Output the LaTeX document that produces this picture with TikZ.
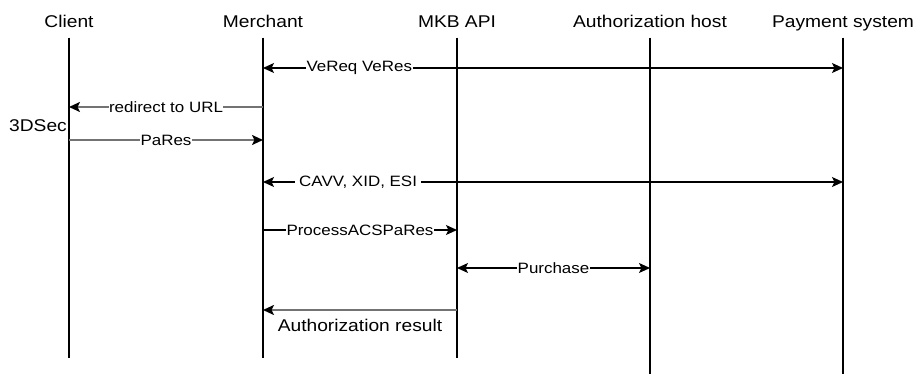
\documentclass[tikz,border=0pt]{standalone}
\usepackage{fontspec}
\setmainfont{Liberation Sans}[FakeStretch=1.13]
\usetikzlibrary{arrows.meta}
\begin{document}
\begin{tikzpicture}[x=1pt,y=1pt,
    font=\fontsize{17}{20}\selectfont,
    >={Stealth[length=11pt,width=10pt,inset=2.5pt,color=black]},
    head/.style={anchor=base,text depth=4pt},
    life/.style={line width=1.1pt,shorten <=2pt},
    call/.style={line width=1.1pt},
    back/.style={line width=2.4pt,draw=black!55},
    lbl/.style={fill=white,inner sep=0.5pt,font=\fontsize{15}{18}\selectfont}]
  \useasboundingbox (0,0) rectangle (920,-374);
  \node[head] (client) at (69,-28) {Client};
  \node[head] (merchant) at (263,-28) {Merchant};
  \node[head] (mkb) at (457,-28) {MKB API};
  \node[head] (auth) at (650,-28) {Authorization host};
  \node[head] (pay) at (843,-28) {Payment system};

  \coordinate (clientend) at (69,-358);
  \coordinate (merchantend) at (263,-358);
  \coordinate (mkbend) at (457,-358);
  \coordinate (authend) at (650,-374);
  \coordinate (payend) at (843,-374);
  \draw[life] (client.south) -- (clientend);
  \draw[life] (merchant.south) -- (merchantend);
  \draw[life] (mkb.south) -- (mkbend);
  \draw[life] (auth.south) -- (authend);
  \draw[life] (pay.south) -- (payend);

  \node[anchor=east,inner sep=1pt] (sec) at (68,-126) {3DSec};

  \coordinate (ve1) at (263,-68);
  \coordinate (ve2) at (843,-68);
  \draw[call,<->] (ve1) to node[lbl,pos=0.166]{VeReq VeRes} (ve2);

  \coordinate (rd1) at (263,-107);
  \coordinate (rd2) at (69,-107);
  \draw[back,->] (rd1) to node[lbl]{redirect to URL} (rd2);

  \coordinate (pa1) at (69,-140);
  \coordinate (pa2) at (263,-140);
  \draw[back,->] (pa1) to node[lbl]{PaRes} (pa2);

  \coordinate (ca1) at (263,-182);
  \coordinate (ca2) at (843,-182);
  \draw[call,<->] (ca1) to node[lbl,inner xsep=4pt,pos=0.164]{CAVV, XID, ESI} (ca2);

  \coordinate (pr1) at (263,-230);
  \coordinate (pr2) at (457,-230);
  \draw[call,->] (pr1) to node[lbl]{ProcessACSPaRes} (pr2);

  \coordinate (pu1) at (457,-268);
  \coordinate (pu2) at (650,-268);
  \draw[call,<->] (pu1) to node[lbl]{Purchase} (pu2);

  \coordinate (ar1) at (457,-310);
  \coordinate (ar2) at (263,-310);
  \draw[back,->] (ar1) to node[below=7pt,inner sep=1pt]{Authorization result} (ar2);
\end{tikzpicture}
\end{document}
